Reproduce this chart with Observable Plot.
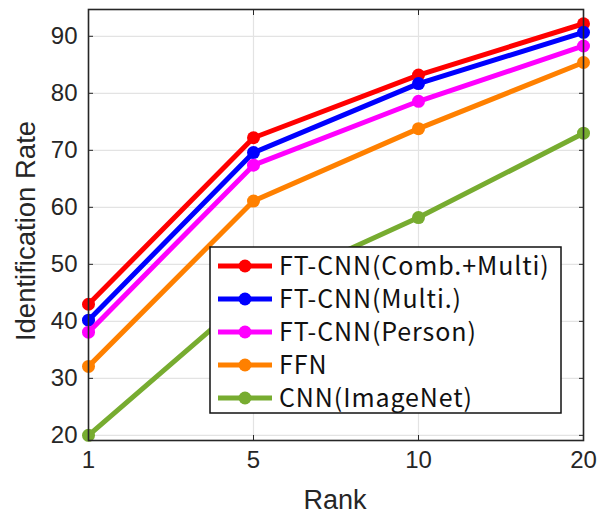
<!DOCTYPE html>
<html>
<head>
<meta charset="utf-8">
<script src="https://cdn.jsdelivr.net/npm/d3@7"></script>
<script src="https://cdn.jsdelivr.net/npm/@observablehq/plot@0.6"></script>
<style>
  html, body { margin: 0; padding: 0; background: #fff; }
  #chart svg { display: block; }
</style>
</head>
<body>
<div id="chart"></div>
<script>
const ranks = ["1", "5", "10", "20"];
const seriesNames = ["FT-CNN(Comb.+Multi)", "FT-CNN(Multi.)", "FT-CNN(Person)", "FFN", "CNN(ImageNet)"];
const seriesColors = ["#ff0000", "#0000ff", "#ff00ff", "#ff8000", "#77ac30"];
const combMulti = [43.0, 72.2, 83.2, 92.2];
const multi = [40.2, 69.6, 81.7, 90.7];
const person = [38.1, 67.4, 78.6, 88.3];
const ffn = [32.1, 61.1, 73.8, 85.4];
const imagenet = [20.0, 45.0, 58.2, 73.0];
const yTicks = [20, 30, 40, 50, 60, 70, 80, 90];

const seriesValues = [combMulti, multi, person, ffn, imagenet];
const data = [];
seriesNames.forEach((name, i) => {
  ranks.forEach((r, j) => data.push({series: name, rank: r, value: seriesValues[i][j]}));
});

const ink = "#262626";
const font = "Liberation Sans, Arial, sans-serif";

const seriesMarks = seriesNames.flatMap(name => {
  const d = data.filter(e => e.series === name);
  return [
    Plot.line(d, {x: "rank", y: "value", stroke: "series", strokeWidth: 5, strokeLinejoin: "round"}),
    Plot.dot(d, {x: "rank", y: "value", fill: "series", r: 6.5, stroke: "none"})
  ];
});

const svg = Plot.plot({
  width: 599,
  height: 515,
  marginLeft: 88,
  marginRight: 16,
  marginTop: 9,
  marginBottom: 75,
  style: {fontFamily: font, fontSize: "24px", color: ink, background: "#fff"},
  x: {type: "point", domain: ranks, padding: 0},
  y: {domain: [19.1, 94.7]},
  color: {domain: seriesNames, range: seriesColors},
  marks: [
    Plot.gridX(ranks, {stroke: "#e3e3e3", strokeOpacity: 1, strokeWidth: 1.2}),
    Plot.gridY(yTicks, {stroke: "#e3e3e3", strokeOpacity: 1, strokeWidth: 1.2}),
    Plot.axisY(yTicks, {anchor: "left", tickSize: -5, tickPadding: 16, stroke: ink, fill: ink, label: null, fontSize: 24}),
    Plot.axisY(yTicks, {anchor: "right", tickSize: -5, tickFormat: () => "", stroke: ink, label: null}),
    Plot.axisX(ranks, {anchor: "bottom", tickSize: -5, tickPadding: 15, stroke: ink, fill: ink, label: null, fontSize: 24}),
    Plot.axisX(ranks, {anchor: "top", tickSize: -5, tickFormat: () => "", stroke: ink, label: null}),
    ...seriesMarks,
    Plot.frame({stroke: ink, strokeWidth: 1.6})
  ]
});

const s = d3.select(svg);
// Axis titles (layout positions only)
s.append("text").attr("transform", "translate(25,231) rotate(-90)").attr("text-anchor", "middle")
  .attr("dy", "0.36em").attr("font-size", 27.5).attr("fill", ink).text("Identification Rate");
s.append("text").attr("x", 335).attr("y", 509).attr("text-anchor", "middle")
  .attr("font-size", 27).attr("fill", ink).text("Rank");

// In-plot legend (layout positions only)
const lg = {x: 210, y: 247, w: 351, h: 166, row0: 266, step: 33, lineX0: 218, lineX1: 272, textX: 279};
const g = s.append("g");
g.append("rect").attr("x", lg.x).attr("y", lg.y).attr("width", lg.w).attr("height", lg.h)
  .attr("fill", "#fff").attr("stroke", "#111").attr("stroke-width", 1.5);
seriesNames.forEach((name, i) => {
  const y = lg.row0 + i * lg.step;
  g.append("line").attr("x1", lg.lineX0).attr("x2", lg.lineX1).attr("y1", y).attr("y2", y)
    .attr("stroke", seriesColors[i]).attr("stroke-width", 5);
  g.append("circle").attr("cx", (lg.lineX0 + lg.lineX1) / 2).attr("cy", y).attr("r", 6.5).attr("fill", seriesColors[i]);
  g.append("text").attr("x", lg.textX).attr("y", y).attr("dy", "0.36em").attr("text-anchor", "start")
    .attr("font-family", "Noto Sans CJK JP, sans-serif").attr("font-size", 25).attr("letter-spacing", 0.9)
    .attr("fill", "#111")
    .text(name);
});

document.getElementById("chart").appendChild(svg);
</script>
</body>
</html>
